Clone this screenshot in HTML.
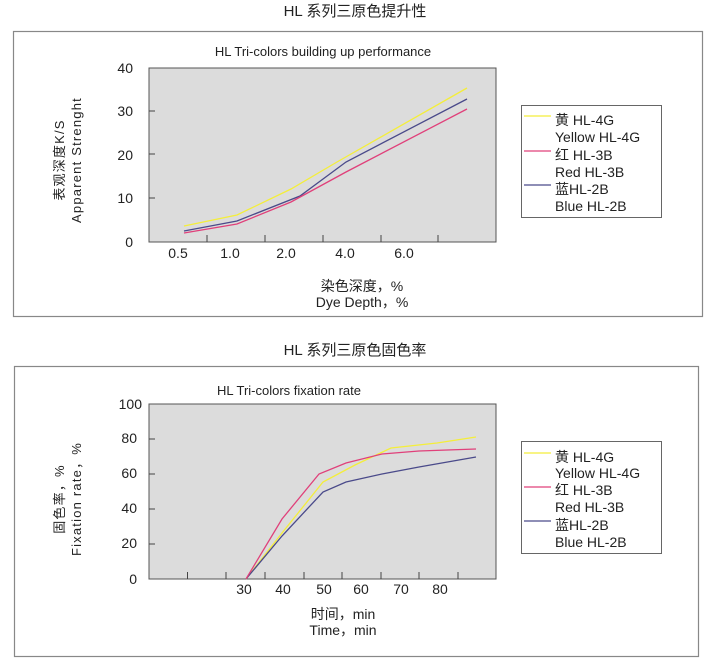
<!DOCTYPE html>
<html><head><meta charset="utf-8"><style>
body{margin:0;background:#fff;}
svg{display:block;font-family:"Liberation Sans","Noto Sans CJK SC",sans-serif;}
</style></head><body>
<svg width="710" height="665" viewBox="0 0 710 665" xmlns="http://www.w3.org/2000/svg">
<g fill="#222">
<text x="355" y="16" font-size="15" text-anchor="middle">HL 系列三原色提升性</text>
<text x="355" y="355" font-size="15" text-anchor="middle">HL 系列三原色固色率</text>
</g>
<!-- top chart -->
<rect x="13.5" y="31.5" width="689" height="285" fill="#fff" stroke="#888" stroke-width="1.2"/>
<text x="323" y="56" font-size="13" text-anchor="middle" fill="#222">HL Tri-colors building up performance</text>
<rect x="149" y="68" width="347" height="174" fill="#dcdcdc" stroke="#555" stroke-width="1"/>
<g stroke="#444" stroke-width="1">
<line x1="207" y1="242" x2="207" y2="235"/><line x1="265" y1="242" x2="265" y2="235"/><line x1="323" y1="242" x2="323" y2="235"/><line x1="381" y1="242" x2="381" y2="235"/><line x1="438" y1="242" x2="438" y2="235"/>
<line x1="149" y1="198" x2="155" y2="198"/><line x1="149" y1="154" x2="155" y2="154"/><line x1="149" y1="111" x2="155" y2="111"/>
</g>
<g font-size="14" fill="#222" text-anchor="end">
<text x="133" y="73">40</text><text x="133" y="116">30</text><text x="133" y="160">20</text><text x="133" y="203">10</text><text x="133" y="247">0</text>
</g>
<g font-size="14" fill="#222" text-anchor="middle">
<text x="178" y="258">0.5</text><text x="230" y="258">1.0</text><text x="286" y="258">2.0</text><text x="345" y="258">4.0</text><text x="404" y="258">6.0</text>
<text x="362" y="291">染色深度，%</text><text x="362" y="307">Dye Depth，%</text>
</g>
<g font-size="13" fill="#222" text-anchor="middle" letter-spacing="1.2">
<text transform="translate(64,160) rotate(-90)">表观深度K/S</text>
<text transform="translate(81,160) rotate(-90)">Apparent Strenght</text>
</g>
<polyline fill="none" stroke="#f4ee3a" stroke-width="1.3" points="184,226 237,215 291,189 337,162 467,88"/>
<polyline fill="none" stroke="#4a4a8a" stroke-width="1.3" points="184,231 237,221 300,196 346,162 467,99"/>
<polyline fill="none" stroke="#e0407a" stroke-width="1.3" points="184,233 237,224 291,202 346,172 467,109"/>
<rect x="521.5" y="105.5" width="140" height="112" fill="#fff" stroke="#666"/>
<line x1="524" y1="116" x2="551" y2="116" stroke="#f4ee3a" stroke-width="1.3"/>
<line x1="524" y1="151" x2="551" y2="151" stroke="#e0407a" stroke-width="1.3"/>
<line x1="524" y1="185" x2="551" y2="185" stroke="#4a4a8a" stroke-width="1.3"/>
<g font-size="14" fill="#222">
<text x="555" y="125">黄 HL-4G</text><text x="555" y="142">Yellow HL-4G</text>
<text x="555" y="160">红 HL-3B</text><text x="555" y="177">Red HL-3B</text>
<text x="555" y="194">蓝HL-2B</text><text x="555" y="211">Blue HL-2B</text>
</g>
<!-- bottom chart -->
<rect x="14.5" y="366.5" width="684" height="290" fill="#fff" stroke="#888" stroke-width="1.2"/>
<text x="289" y="395" font-size="13" text-anchor="middle" fill="#222">HL Tri-colors fixation rate</text>
<rect x="149" y="404" width="347" height="175" fill="#dcdcdc" stroke="#555" stroke-width="1"/>
<g stroke="#444" stroke-width="1">
<line x1="187.5" y1="579" x2="187.5" y2="572"/><line x1="226" y1="579" x2="226" y2="572"/><line x1="265" y1="579" x2="265" y2="572"/><line x1="304" y1="579" x2="304" y2="572"/><line x1="342" y1="579" x2="342" y2="572"/><line x1="381" y1="579" x2="381" y2="572"/><line x1="419" y1="579" x2="419" y2="572"/><line x1="458" y1="579" x2="458" y2="572"/>
<line x1="149" y1="544" x2="155" y2="544"/><line x1="149" y1="509" x2="155" y2="509"/><line x1="149" y1="474" x2="155" y2="474"/><line x1="149" y1="439" x2="155" y2="439"/>
</g>
<g font-size="14" fill="#222" text-anchor="end">
<text x="142" y="409">100</text><text x="137" y="443">80</text><text x="137" y="478">60</text><text x="137" y="513">40</text><text x="137" y="548">20</text><text x="137" y="584">0</text>
</g>
<g font-size="14" fill="#222" text-anchor="middle">
<text x="244" y="594">30</text><text x="283" y="594">40</text><text x="324" y="594">50</text><text x="361" y="594">60</text><text x="401" y="594">70</text><text x="440" y="594">80</text>
<text x="343" y="619">时间，min</text><text x="343" y="635">Time，min</text>
</g>
<g font-size="13" fill="#222" text-anchor="middle" letter-spacing="1.2">
<text transform="translate(64,499) rotate(-90)">固色率，%</text>
<text transform="translate(81,499) rotate(-90)">Fixation rate，%</text>
</g>
<polyline fill="none" stroke="#f4ee3a" stroke-width="1.3" points="246,579 282,533 323,482 355,465 391,448 437,443 476,437"/>
<polyline fill="none" stroke="#4a4a8a" stroke-width="1.3" points="246,579 282,536 323,492 346,482 382,474 419,467 476,457"/>
<polyline fill="none" stroke="#e0407a" stroke-width="1.3" points="246,579 282,519 319,474 346,463 382,454 419,451 476,449"/>
<rect x="521.5" y="441.5" width="140" height="112" fill="#fff" stroke="#666"/>
<line x1="524" y1="453" x2="551" y2="453" stroke="#f4ee3a" stroke-width="1.3"/>
<line x1="524" y1="487" x2="551" y2="487" stroke="#e0407a" stroke-width="1.3"/>
<line x1="524" y1="521" x2="551" y2="521" stroke="#4a4a8a" stroke-width="1.3"/>
<g font-size="14" fill="#222">
<text x="555" y="462">黄 HL-4G</text><text x="555" y="478">Yellow HL-4G</text>
<text x="555" y="495">红 HL-3B</text><text x="555" y="512">Red HL-3B</text>
<text x="555" y="530">蓝HL-2B</text><text x="555" y="547">Blue HL-2B</text>
</g>
</svg>
</body></html>
